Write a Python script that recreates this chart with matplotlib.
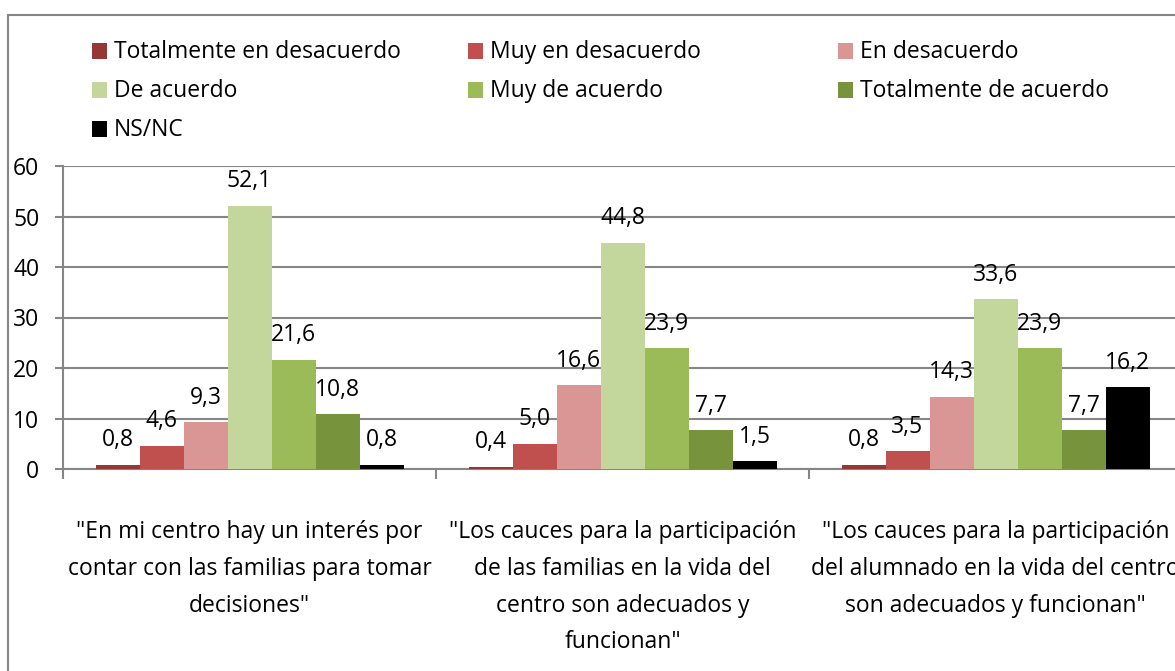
import matplotlib.pyplot as plt
import matplotlib.patches as patches
import numpy as np

plt.rcParams['font.family'] = ['Open Sans', 'DejaVu Sans']

# data
series = ['Totalmente en desacuerdo', 'Muy en desacuerdo', 'En desacuerdo',
          'De acuerdo', 'Muy de acuerdo', 'Totalmente de acuerdo', 'NS/NC']
colors = ['#953735', '#C0504D', '#D99694', '#C3D69B', '#9BBB59', '#77933C', '#000000']
categories = ['"En mi centro hay un interés por\ncontar con las familias para tomar\ndecisiones"',
              '"Los cauces para la participación\nde las familias en la vida del\ncentro son adecuados y\nfuncionan"',
              '"Los cauces para la participación\ndel alumnado en la vida del centro\nson adecuados y funcionan"']
totalmente_desacuerdo = [0.8, 0.4, 0.8]
muy_desacuerdo = [4.6, 5.0, 3.5]
en_desacuerdo = [9.3, 16.6, 14.3]
de_acuerdo = [52.1, 44.8, 33.6]
muy_acuerdo = [21.6, 23.9, 23.9]
totalmente_acuerdo = [10.8, 7.7, 7.7]
ns_nc = [0.8, 1.5, 16.2]
values = [totalmente_desacuerdo, muy_desacuerdo, en_desacuerdo, de_acuerdo,
          muy_acuerdo, totalmente_acuerdo, ns_nc]

W, H = 1175, 671
fs = 16.5
fig = plt.figure(figsize=(W / 100, H / 100), dpi=100)
ax = fig.add_axes([63 / W, 202 / H, 1119 / W, 303 / H])

grey = '#868686'
x = np.arange(len(categories))
w = 44 / 373
for i, (vals, col) in enumerate(zip(values, colors)):
    bars = ax.bar(x + (i - 3) * w, vals, w, color=col, zorder=3)
    for b, v in zip(bars, vals):
        ax.annotate(f'{v:.1f}'.replace('.', ','), (b.get_x() + b.get_width() / 2, v),
                    xytext=(0, 9), textcoords='offset points',
                    ha='center', va='bottom', fontsize=fs, zorder=4)

ax.set_xlim(-0.5, 2.5)
ax.set_ylim(0, 60)
ax.set_yticks(range(0, 61, 10))
ax.yaxis.grid(True, color=grey, linewidth=1.5, zorder=0)
ax.set_xticks(x)
ax.set_xticklabels(categories, fontsize=fs, linespacing=1.7)
ax.set_xticks([-0.5, 0.5, 1.5, 2.5], minor=True)
ax.tick_params(axis='x', which='major', length=0, pad=37)
ax.tick_params(axis='x', which='minor', length=7, color=grey, width=1.5)
ax.tick_params(axis='y', length=6, color=grey, width=1.5, labelsize=fs, pad=11)
for s in ['top', 'right']:
    ax.spines[s].set_visible(False)
for s in ['left', 'bottom']:
    ax.spines[s].set_color(grey)
    ax.spines[s].set_linewidth(1.5)

# legend, Excel style: equal width columns, filled row by row
col_x = [92, 468, 838]
row_y = [51, 90, 129]
for i, (name, col) in enumerate(zip(series, colors)):
    cx = col_x[i % 3]
    cy = row_y[i // 3]
    fig.patches.append(patches.Rectangle((cx / W, 1 - (cy + 7.5) / H), 15 / W, 15 / H,
                                         facecolor=col, transform=fig.transFigure))
    fig.text((cx + 22) / W, 1 - (cy + 1) / H, name, fontsize=fs, va='center', ha='left')

# outer chart border (cropped at right and bottom)
fig.patches.append(patches.Rectangle((8 / W, -0.1), 1.2, 1.1 - 15 / H, fill=False,
                                     edgecolor=grey, linewidth=1.5,
                                     transform=fig.transFigure))

plt.savefig('out.png', dpi=100)
